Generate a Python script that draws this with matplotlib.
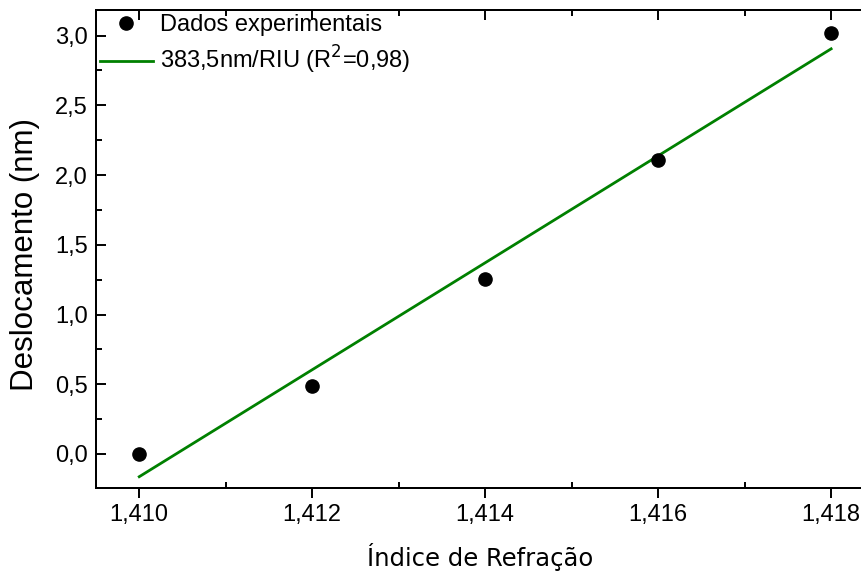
import matplotlib
matplotlib.use("Agg")
import matplotlib.pyplot as plt
from matplotlib.ticker import MultipleLocator, FuncFormatter

# dados
indice = [1.410, 1.412, 1.414, 1.416, 1.418]
deslocamento = [0.0, 0.485, 1.255, 2.105, 3.02]
# reta de ajuste (383,5 nm/RIU)
ajuste_x = [1.410, 1.418]
ajuste_y = [-0.163, 2.905]

def virgula(fmt):
    return FuncFormatter(lambda v, pos: (fmt % v).replace('.', ','))

fig = plt.figure(figsize=(8.62, 5.76), dpi=100)
ax = fig.add_axes([96/862, 88/576, 768/862, 478.5/576])

ax.plot(indice, deslocamento, 'o', color='black', markersize=9.5, label='Dados experimentais', zorder=3)
ax.plot(ajuste_x, ajuste_y, '-', color='#008000', lw=2.0, label='383,5nm/RIU (R$^2$=0,98)')

ax.set_xlim(1.4095, 1.41838)
ax.set_ylim(-0.244, 3.187)
ax.xaxis.set_major_locator(MultipleLocator(0.002))
ax.xaxis.set_minor_locator(MultipleLocator(0.001))
ax.yaxis.set_major_locator(MultipleLocator(0.5))
ax.yaxis.set_minor_locator(MultipleLocator(0.25))
ax.xaxis.set_major_formatter(virgula('%.3f'))
ax.yaxis.set_major_formatter(virgula('%.1f'))

for s in ax.spines.values():
    s.set_linewidth(1.4)

ax.tick_params(axis='x', which='major', direction='out', length=7.5, width=1.4, labelsize=17, pad=4)
ax.tick_params(axis='x', which='minor', direction='in', length=4, width=1.4)
ax.tick_params(axis='y', which='major', direction='in', length=7.5, width=1.4, labelsize=17, pad=6)
ax.tick_params(axis='y', which='minor', direction='in', length=4.5, width=1.4)
for lab in ax.get_xticklabels() + ax.get_yticklabels():
    lab.set_family('Liberation Sans')

# eixo de cima com ticks para dentro
top = ax.twiny()
top.set_xlim(ax.get_xlim())
top.xaxis.set_major_locator(MultipleLocator(0.002))
top.xaxis.set_minor_locator(MultipleLocator(0.001))
top.tick_params(axis='x', which='major', direction='in', length=7.5, width=1.4, labeltop=False)
top.tick_params(axis='x', which='minor', direction='in', length=4.5, width=1.4)
for s in top.spines.values():
    s.set_linewidth(1.4)

ax.set_xlabel('Índice de Refração', fontsize=17.5, family='DejaVu Sans', labelpad=12)
ax.set_ylabel('Deslocamento (nm)', fontsize=22.5, family='Liberation Sans')
ax.yaxis.set_label_coords(-0.073, 0.489)

leg = ax.legend(loc='upper left', frameon=False, prop={'family': 'Liberation Sans', 'size': 17},
                borderaxespad=0.0, handlelength=2.25, handletextpad=0.3, labelspacing=0.35,
                borderpad=0.0, bbox_to_anchor=(0.005, 0.991))

fig.savefig('out.png', dpi=100)
